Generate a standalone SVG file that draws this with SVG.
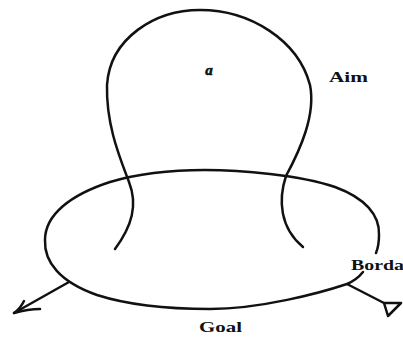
<svg xmlns="http://www.w3.org/2000/svg" width="403" height="338" viewBox="0 0 403 338">
<style>
.ln{fill:none;stroke:#111;stroke-width:2.5;stroke-linecap:round;stroke-linejoin:round}
.lb{font-family:"Liberation Serif","Times New Roman",serif;font-weight:bold;fill:#111;font-size:15px}
</style>
<rect width="403" height="338" fill="#fff"/>
<g id="goal">
<path class="ln" d="M376,253 C378,248 379,242 379,235 C380,215 365,198 335,187 C300,175 240,170 205,170 C175,170 140,173 110,182 C70,195 45,215 45,240 C44,262 60,282 97,295 C125,304 165,309 210,309 C260,309 320,293 347,284 C354,281 359,277 363,272"/>
<text class="lb" x="199" y="332" textLength="43" lengthAdjust="spacingAndGlyphs">Goal</text>
</g>
<g id="aim">
<path class="ln" d="M115,249 C132,226 138,205 129,182 C120,158 106,125 107,85 C110,38 155,10 200,10 C250,10 298,40 310,85 C316,115 300,150 286,176 C278,200 280,228 303,247"/>
<text class="lb" x="209" y="75" font-style="italic" text-anchor="middle" font-size="17" stroke="#111" stroke-width="0.6">a</text>
<text class="lb" x="329" y="82" textLength="39" lengthAdjust="spacingAndGlyphs">Aim</text>
</g>
<g id="borda">
<text class="lb" x="351" y="270" textLength="53" lengthAdjust="spacingAndGlyphs">Borda</text>
</g>
<g id="connectors">
<path class="ln" d="M69,282 L14,313"/>
<path class="ln" d="M24,301 Q20,309 14,313 Q28,309 40,309"/>
<path class="ln" d="M347,284 L384,303"/>
<polygon class="ln" fill="#fff" points="384,303 401,303 388,316"/>
</g>
</svg>
